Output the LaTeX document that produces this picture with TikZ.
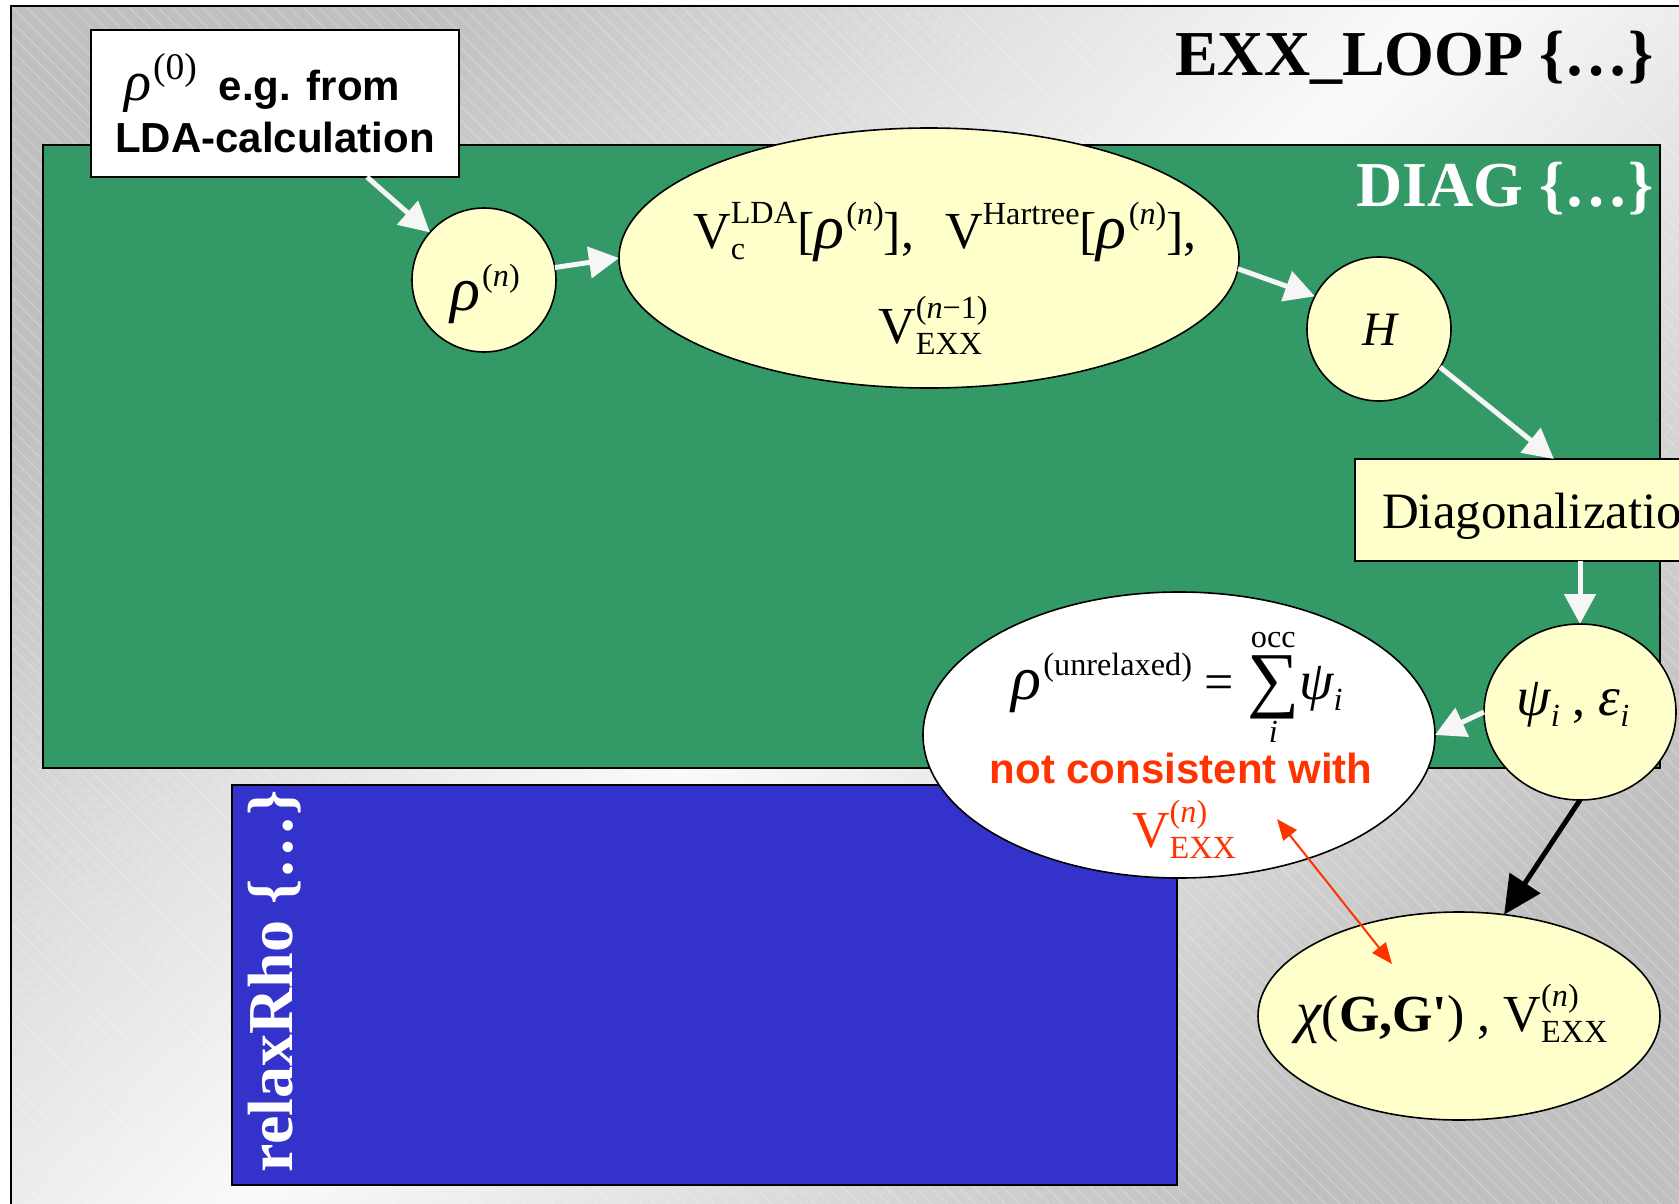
\documentclass[tikz,border=0pt]{standalone}
\usepackage{graphicx}
\usepackage{fontspec}
\setmainfont{Liberation Serif}
\setsansfont{Liberation Sans}
\usetikzlibrary{arrows.meta,shapes.geometric,patterns.meta,calc}

\definecolor{diaggreen}{RGB}{51,153,102}
\definecolor{relaxblue}{RGB}{51,51,204}
\definecolor{cream}{RGB}{255,255,204}
\definecolor{warnred}{RGB}{255,51,0}
\definecolor{arrowwhite}{RGB}{246,246,246}
\definecolor{bgdark}{RGB}{192,192,192}
\definecolor{bglight}{RGB}{250,250,250}

\pgfdeclareverticalshading{backdrop}{100bp}{color(0bp)=(bgdark); color(25bp)=(bgdark); color(50bp)=(bglight); color(75bp)=(bgdark); color(100bp)=(bgdark)}

% text-mode super- and subscripts
\newsavebox\supbox
\newsavebox\subbox
\newsavebox\sigmabox
\newcommand{\up}[1]{\raisebox{0.45em}{\scalebox{0.62}{#1}}}
\newcommand{\dn}[1]{\raisebox{-0.22em}{\scalebox{0.62}{#1}}}
\newcommand{\updn}[2]{\sbox\supbox{\raisebox{0.48em}{\scalebox{0.62}{#1}}}\sbox\subbox{\dn{#2}}%
  \ifdim\wd\supbox>\wd\subbox\relax\rlap{\usebox\subbox}\usebox\supbox
  \else\rlap{\usebox\supbox}\usebox\subbox\fi}
\newcommand{\nsup}{(\textit{n})}
% Greek letters, slightly enlarged
\newcommand{\rh}{\textit{\scalebox{1.2}{ρ}}\kern2pt}
\newcommand{\ps}{\textit{\scalebox{1.06}{ψ}}}
\newcommand{\ep}{\textit{\scalebox{1.06}{ε}}}
\newcommand{\ch}{\textit{\scalebox{1.1}{χ}}}
\newcommand{\sumocc}{\sbox\sigmabox{\raisebox{-4pt}{\fontsize{73}{73}\selectfont ∑}}%
  \rlap{\makebox[\wd\sigmabox]{\raisebox{52pt}{\scalebox{0.62}{occ}}}}%
  \rlap{\makebox[\wd\sigmabox]{\raisebox{-43pt}{\scalebox{0.62}{\itshape i}}}}%
  \usebox\sigmabox}

\newcommand{\fml}{\fontsize{52}{58}\selectfont}
\newcommand{\headfont}{\fontsize{64}{70}\selectfont\bfseries}
\newcommand{\relaxfont}{\fontsize{64}{70}\selectfont\bfseries}
\newcommand{\notefont}{\sffamily\bfseries\fontsize{42}{46}\selectfont}

\tikzset{
  container/.style={rectangle, draw=black, line width=2pt, inner sep=0pt, outer sep=0pt},
  bubble/.style={ellipse, draw=black, line width=1.6pt, fill=cream, inner sep=0pt, outer sep=0pt},
  txt/.style={inner sep=0pt, outer sep=0pt},
  flow/.style={draw=arrowwhite, line width=5pt, -{Triangle[length=30pt,width=31pt]}},
  feed/.style={draw=black, line width=5pt, -{Triangle[length=38pt,width=36pt]}},
  clash/.style={draw=warnred, line width=2pt,
    {Triangle[length=21pt,width=17pt]}-{Triangle[length=21pt,width=17pt]}},
}

\begin{document}
\begin{tikzpicture}[x=1pt,y=-1pt]
\useasboundingbox (0,0) rectangle (1679,1204);

% backdrop: diagonal grey gradient with fine hatching
\shade[shading=backdrop, shading angle=45] (11,6) rectangle (1679,1204);
\fill[pattern={Lines[angle=-45,distance=10.3pt,line width=1pt]}, pattern color=white, opacity=0.25]
  (11,6) rectangle (1679,1204);
\draw[line width=2pt] (11,1230) -- (11,6) -- (1720,6);

% loop blocks
\node[container, fill=diaggreen, minimum width=1617pt, minimum height=623pt] (diag) at (851.5,456.5) {};
\node[container, fill=relaxblue, minimum width=945pt, minimum height=400pt] (relax) at (704.5,985) {};

\node[txt, anchor=base east, font=\headfont] (looplabel) at (1654,76) {EXX\_LOOP \{…\}};
\node[txt, anchor=base east, text=white, font=\headfont] (diaglabel) at (1654,206) {DIAG \{…\}};
\node[txt, anchor=base west, rotate=90, text=white, font=\relaxfont] (relaxlabel) at (292,1172) {relaxRho \{…\}};

% starting density
\node[container, fill=white, line width=1.6pt, minimum width=368pt, minimum height=147pt] (start) at (275,103.5) {};
\node[txt, anchor=base west] (startA) at (124,101)
  {\fontsize{47}{50}\selectfont\rh\raisebox{0.45em}{\scalebox{0.8}{(0)}}\hspace{22pt}{\notefont e.g. from}};
\node[txt, anchor=base, font=\notefont] (startB) at (275,153) {LDA-calculation};

% SCF cycle
\node[bubble, minimum width=144pt, minimum height=144pt] (rhon) at (484,280) {};
\node[txt, anchor=base, font=\fml] (rhontext) at (485,310) {\rh\up{\nsup}};

\node[bubble, minimum width=620pt, minimum height=260pt] (pot) at (929,258) {};
\node[txt, anchor=base, font=\fml] (potA) at (945,248)
  {V\updn{LDA}{c}[\rh\up{\nsup}],\hspace{0.6em}V\up{Hartree}[\rh\up{\nsup}],};
\node[txt, anchor=base, font=\fml] (potB) at (933,343) {V\updn{(\textit{n}−1)}{EXX}};

\node[bubble, minimum width=144pt, minimum height=144pt] (ham) at (1379,329) {};
\node[txt, anchor=base, font=\fontsize{48}{52}\selectfont\itshape] (hamtext) at (1380,345) {H};

\node[rectangle, draw=black, line width=1.6pt, fill=cream, anchor=north west, outer sep=0pt,
  minimum height=102pt, inner xsep=27pt, inner ysep=0pt, text height=40pt, text depth=4pt,
  font=\fontsize{51}{56}\selectfont] (diagz) at (1355,459) {Diagonalization};

\node[bubble, minimum width=192pt, minimum height=176pt] (psi) at (1580,712) {};
\node[txt, anchor=base, font=\fml] (psitext) at (1573,715) {\ps\dn{\textit{i}} , \ep\dn{\textit{i}}};

\node[bubble, fill=white, minimum width=512pt, minimum height=286pt] (unrel) at (1179,735) {};
\node[txt, anchor=base, font=\fml] (unrelA) at (1177,699)
  {\rh\up{(unrelaxed)} = \sumocc\ps\dn{\textit{i}}};
\node[txt, anchor=base, text=warnred, font=\notefont] (unrelB) at (1181,783) {not consistent with};
\node[txt, anchor=base, text=warnred, font=\fml] (unrelC) at (1184,847) {V\updn{\nsup}{EXX}};

\node[bubble, minimum width=402pt, minimum height=208pt] (chi) at (1459,1016) {};
\node[txt, anchor=base, font=\fml] (chitext) at (1452,1031)
  {\ch(\textbf{G,G\textquotesingle}) , V\updn{\nsup}{EXX}};

% connectors
\draw[flow] ($(start.south west)!0.75!(start.south east)$) -- (rhon);
\draw[flow] (rhon.10) -- (pot.west);
\draw[flow] (pot.-2) -- (ham.153);
\draw[flow] (ham.-32) -- ([xshift=9pt]diagz.north);
\draw[flow] (diagz.south -| psi.north) -- (psi.north);
\draw[flow] (psi.west) -- (unrel.east);
\draw[feed] (psi.south) -- (chi.66);

\coordinate (clashA) at ([shift={(98,84)}]unrel.center);
\coordinate (clashB) at ([shift={(-67,-52)}]chi.center);
\draw[clash] (clashA) -- (clashB);
\end{tikzpicture}
\end{document}
